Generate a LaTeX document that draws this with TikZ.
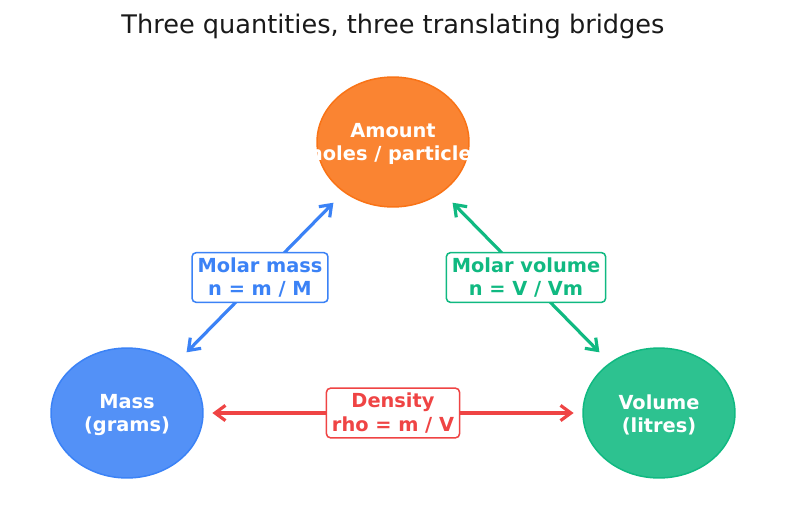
\documentclass[tikz,border=0pt]{standalone}
\usepackage{fontspec}
\setmainfont{DejaVu Sans}
\usetikzlibrary{positioning,calc,arrows.meta,shapes.geometric}
\definecolor{qorange}{HTML}{F97316}
\definecolor{qblue}{HTML}{3B82F6}
\definecolor{qgreen}{HTML}{10B981}
\definecolor{qred}{HTML}{EF4444}
\tikzset{
  qty/.style    = {ellipse, draw=#1, fill=#1, fill opacity=0.88, line width=1.1pt,
                   minimum width=3.86cm, minimum height=3.30cm, inner sep=0pt},
  qlbl/.style   = {text=white, align=center, inner sep=0pt, yshift=-1.5pt,
                   font=\fontsize{14}{17}\selectfont\bfseries},
  bridge/.style = {draw=#1, line width=2.3pt, line cap=round,
                   {Straight Barb[length=7.5pt,width=11pt]}-{Straight Barb[length=7.5pt,width=11pt]}},
  blbl/.style   = {draw=#1, text=#1, fill=white, rounded corners=3pt,
                   line width=1.1pt, align=center, inner xsep=4pt, inner ysep=3.5pt,
                   font=\fontsize{14}{17}\selectfont\bfseries},
}

\begin{document}
\begin{tikzpicture}[x=0.0254cm,y=-0.0254cm]
  \useasboundingbox (0,0) rectangle (787,512);
  \node[font=\fontsize{18.5}{22}\selectfont, text=black!90] (title) at (393,26)
    {Three quantities, three translating bridges};
  % the three quantities
  \node[qty=qorange] (amt) at (393,142) {};
  \node[qty=qblue]   (mass) at (127,413) {};
  \node[qty=qgreen]  (vol) at (659,413) {};
  \node[qlbl] (amtT) at (amt) {Amount\\(moles / particles)};
  \node[qlbl] (massT) at (mass) {Mass\\(grams)};
  \node[qlbl] (volT) at (vol) {Volume\\(litres)};
  % bridges
  \draw[bridge=qblue, shorten <=0.37cm, shorten >=0.37cm] (mass) -- (amt);
  \draw[bridge=qgreen, shorten <=0.37cm, shorten >=0.37cm] (amt) -- (vol);
  \draw[bridge=qred, shorten <=0.22cm, shorten >=0.22cm] (mass) -- (vol);
  \node[blbl=qblue]  (mm) at ($(mass)!0.5!(amt)$) {Molar mass\\n = m / M};
  \node[blbl=qgreen] (mv) at ($(amt)!0.5!(vol)$) {Molar volume\\n = V / Vm};
  \node[blbl=qred]   (dn) at ($(mass)!0.5!(vol)$) {Density\\rho = m / V};
\end{tikzpicture}
\end{document}
